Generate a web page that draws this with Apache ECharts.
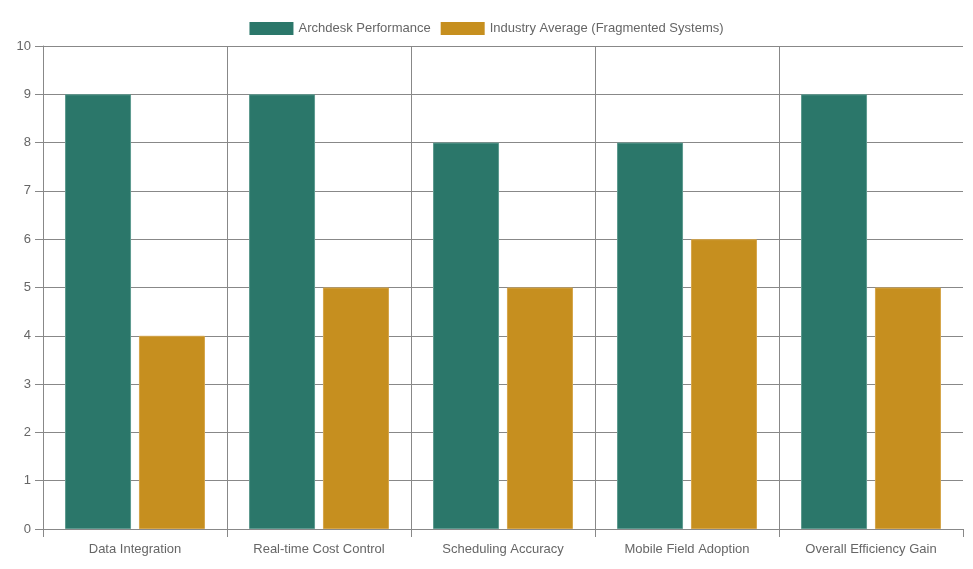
<!DOCTYPE html>
<html>
<head>
<meta charset="utf-8">
<script src="https://cdn.jsdelivr.net/npm/echarts@6/dist/echarts.min.js"></script>
<style>
html,body{margin:0;padding:0;background:#fff;}
#chart{width:973px;height:569px;}
</style>
</head>
<body>
<div id="chart"></div>
<script>
const categories = ['Data Integration', 'Real-time Cost Control', 'Scheduling Accuracy', 'Mobile Field Adoption', 'Overall Efficiency Gain'];
const archdeskValues = [9, 9, 8, 8, 9];
const industryValues = [4, 5, 5, 6, 5];
const seriesNames = ['Archdesk Performance', 'Industry Average (Fragmented Systems)'];

const chart = echarts.init(document.getElementById('chart'), null, {renderer: 'canvas'});
const font = 'Helvetica Neue, Helvetica, Arial, Liberation Sans, sans-serif';
chart.setOption({
  animation: false,
  textStyle: {fontFamily: font},
  legend: {
    top: 17,
    left: 'center',
    itemWidth: 44,
    itemHeight: 13,
    itemGap: 10,
    icon: 'rect',
    itemStyle: {borderWidth: 0},
    textStyle: {color: '#666', fontSize: 13, fontFamily: font},
    data: seriesNames
  },
  grid: {left: 43, right: 10, top: 46, bottom: 40, containLabel: false},
  xAxis: {
    type: 'category',
    data: categories,
    boundaryGap: true,
    axisLine: {show: true, lineStyle: {color: '#888', width: 1}},
    axisTick: {show: true, length: 8, interval: 0, lineStyle: {color: '#888'}},
    axisLabel: {color: '#666', fontSize: 13, margin: 14, interval: 0, fontFamily: font},
    splitLine: {show: true, interval: 0, lineStyle: {color: ['#888', '#888', '#888', '#888', '#888', 'rgba(0,0,0,0)'], width: 1}}
  },
  yAxis: {
    type: 'value',
    min: 0,
    max: 10,
    interval: 1,
    axisLine: {show: true, lineStyle: {color: '#888', width: 1}},
    axisTick: {show: true, length: 8, lineStyle: {color: '#888'}},
    axisLabel: {color: '#666', fontSize: 13, margin: 12, fontFamily: font},
    splitLine: {show: true, lineStyle: {color: '#888', width: 1}}
  },
  series: [
    {
      name: seriesNames[0],
      type: 'bar',
      data: archdeskValues,
      barWidth: 66,
      barGap: '12%',
      itemStyle: {color: '#2b776a', borderColor: '#5d9a8f', borderWidth: 1}
    },
    {
      name: seriesNames[1],
      type: 'bar',
      data: industryValues,
      barWidth: 66,
      barGap: '12%',
      itemStyle: {color: '#c68f1f', borderColor: '#d6a64a', borderWidth: 1}
    }
  ]
});
</script>
</body>
</html>
